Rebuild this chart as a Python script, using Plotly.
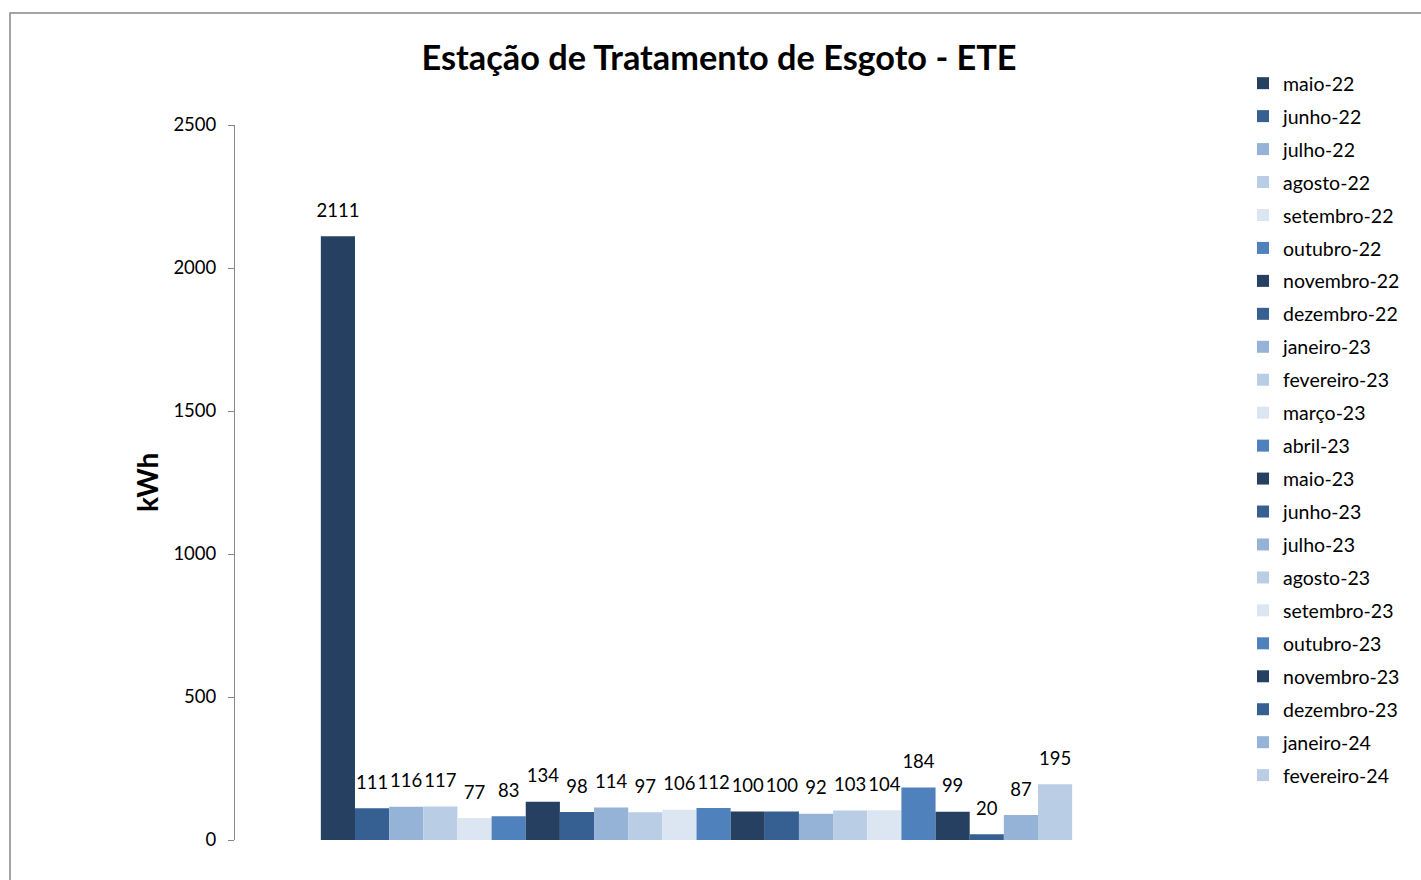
import plotly.graph_objects as go

months = ["maio-22", "junho-22", "julho-22", "agosto-22", "setembro-22", "outubro-22",
          "novembro-22", "dezembro-22", "janeiro-23", "fevereiro-23", "março-23", "abril-23",
          "maio-23", "junho-23", "julho-23", "agosto-23", "setembro-23", "outubro-23",
          "novembro-23", "dezembro-23", "janeiro-24", "fevereiro-24"]
values = [2111, 111, 116, 117, 77, 83, 134, 98, 114, 97, 106, 112,
          100, 100, 92, 103, 104, 184, 99, 20, 87, 195]
palette = ["#264061", "#376092", "#95B3D7", "#B9CDE5", "#DCE6F2", "#4F81BD"]
category = ["ETE"]

FONT = "Lato, 'Open Sans', sans-serif"
W, H = 1421, 880
L, R, T, B = 235, 263, 125, 40
pw, ph = W - L - R, H - T - B
GAP = 0.186

fig = go.Figure()
for i, (m, v) in enumerate(zip(months, values)):
    fig.add_trace(go.Bar(
        x=category, y=[v], name=m,
        marker=dict(color=palette[i % len(palette)], line=dict(width=0)),
        legendgroup=m, hoverinfo="name+y",
    ))
for i, (m, v) in enumerate(zip(months, values)):
    fig.add_trace(go.Scatter(
        x=category, y=[v], name=m, mode="markers+text",
        marker=dict(size=22, opacity=0),
        text=[str(v)], textposition="top center",
        textfont=dict(size=18.5, color="#000000", family=FONT),
        cliponaxis=False, legendgroup=m, showlegend=False, hoverinfo="skip",
    ))

def px_x(p):
    return (p - L) / pw

def px_y(p):
    return (H - B - p) / ph

fig.update_layout(
    width=W, height=H,
    margin=dict(l=L, r=R, t=T, b=B, autoexpand=False),
    paper_bgcolor="white", plot_bgcolor="white",
    barmode="group", bargap=GAP, bargroupgap=0,
    scattermode="group", scattergap=GAP,
    font=dict(family=FONT, size=18.5, color="#000000"),
    title=dict(text="<b>Estação de Tratamento de Esgoto - ETE</b>",
               x=719 / W, xanchor="center", y=1 - 58 / H, yanchor="middle",
               font=dict(size=34.3, family=FONT, color="#000000")),
    xaxis=dict(showticklabels=False, showline=False, showgrid=False, zeroline=False, ticks=""),
    yaxis=dict(range=[0, 2500], tickvals=[0, 500, 1000, 1500, 2000, 2500],
               showline=True, linecolor="#868686", linewidth=1,
               ticks="outside", ticklen=6, tickcolor="#868686",
               showgrid=False, zeroline=False, ticklabelstandoff=8,
               tickfont=dict(size=18.5, family=FONT)),
    legend=dict(x=px_x(1243), y=px_y(64), xanchor="left", yanchor="top",
                font=dict(size=19.5, family=FONT), traceorder="grouped",
                tracegroupgap=4.6, bgcolor="rgba(0,0,0,0)", maxheight=1),
    showlegend=True,
    annotations=[dict(text="<b>kWh</b>", x=px_x(147), y=px_y(483), xref="paper", yref="paper",
                      xanchor="center", yanchor="middle",
                      textangle=-90, showarrow=False, font=dict(size=28, family=FONT))],
    shapes=[dict(type="rect", xref="paper", yref="paper",
                 x0=px_x(10), x1=px_x(1500), y0=px_y(1000), y1=px_y(13),
                 line=dict(color="#868686", width=1.5), layer="below")],
)

fig.write_html("out.html", config={"displayModeBar": False},
               post_script="document.body.style.margin='0';document.body.style.overflow='hidden';")
